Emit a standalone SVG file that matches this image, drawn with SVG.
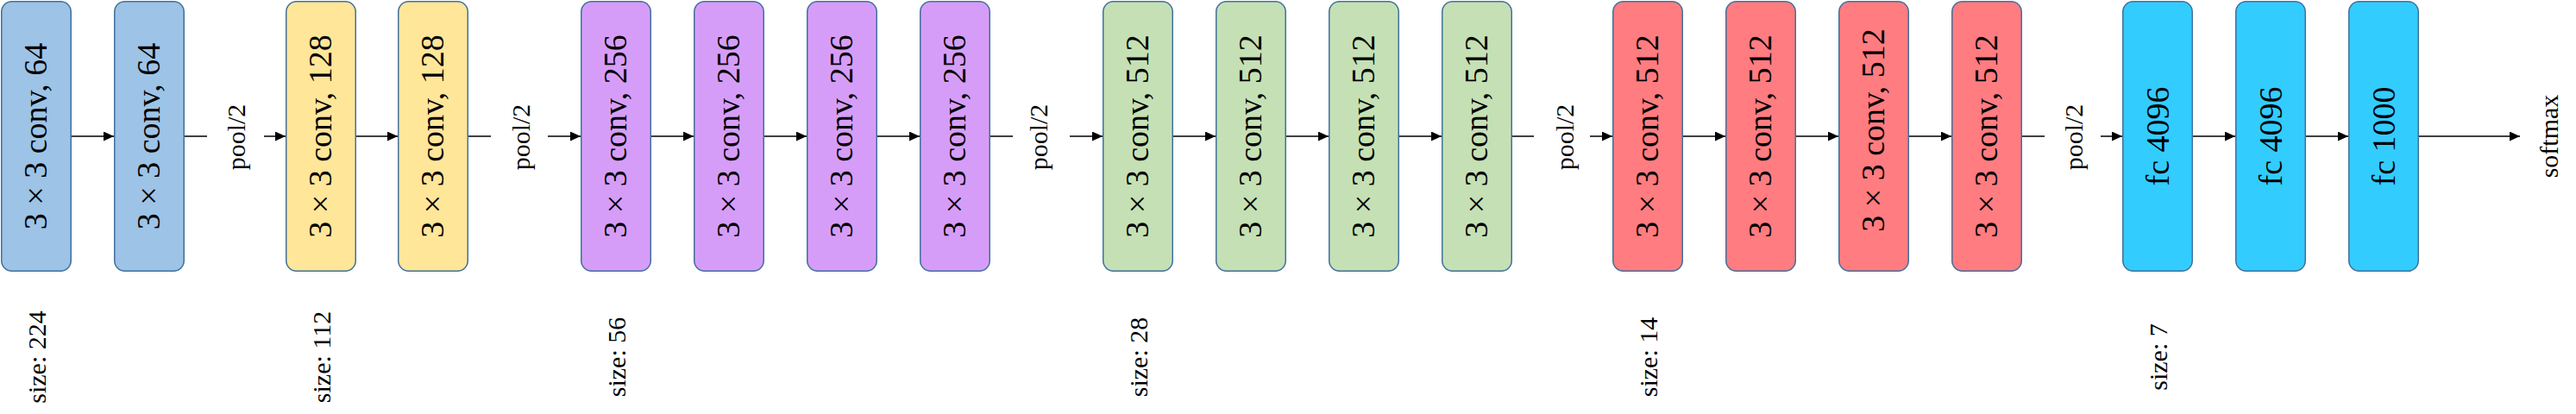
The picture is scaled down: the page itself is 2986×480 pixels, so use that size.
<svg xmlns="http://www.w3.org/2000/svg" width="2986" height="480" viewBox="0 0 2986 480">
<style>
.box{stroke:#41719C;stroke-width:1.5}
.b{fill:#9DC3E6}.y{fill:#FFE699}.p{fill:#D69DF8}.g{fill:#C5E0B4}.r{fill:#FF7C80}.c{fill:#33CCFF}
.t{font-family:"Liberation Serif","Times New Roman",serif;font-size:38px;fill:#000;text-anchor:middle}
.s{font-family:"Liberation Serif","Times New Roman",serif;font-size:30px;fill:#000;text-anchor:middle}
.ln{stroke:#000;stroke-width:1.5;fill:none}
</style>
<defs>
<marker id="ah" markerUnits="userSpaceOnUse" markerWidth="12" markerHeight="11" refX="12" refY="5.5" orient="auto">
<path d="M0,0 L12,5.5 L0,11 z" fill="#000"/>
</marker>
</defs>
<rect width="2986" height="480" fill="#fff"/>
<g id="connectors">
<line class="ln" x1="83" y1="158" x2="132" y2="158" marker-end="url(#ah)"/>
<line class="ln" x1="214" y1="158" x2="240" y2="158"/>
<line class="ln" x1="306" y1="158" x2="331" y2="158" marker-end="url(#ah)"/>
<line class="ln" x1="413" y1="158" x2="461" y2="158" marker-end="url(#ah)"/>
<line class="ln" x1="543" y1="158" x2="569" y2="158"/>
<line class="ln" x1="635" y1="158" x2="673" y2="158" marker-end="url(#ah)"/>
<line class="ln" x1="755" y1="158" x2="804" y2="158" marker-end="url(#ah)"/>
<line class="ln" x1="886" y1="158" x2="935" y2="158" marker-end="url(#ah)"/>
<line class="ln" x1="1017" y1="158" x2="1066" y2="158" marker-end="url(#ah)"/>
<line class="ln" x1="1148" y1="158" x2="1174" y2="158"/>
<line class="ln" x1="1240" y1="158" x2="1278" y2="158" marker-end="url(#ah)"/>
<line class="ln" x1="1360" y1="158" x2="1409" y2="158" marker-end="url(#ah)"/>
<line class="ln" x1="1491" y1="158" x2="1540" y2="158" marker-end="url(#ah)"/>
<line class="ln" x1="1622" y1="158" x2="1671" y2="158" marker-end="url(#ah)"/>
<line class="ln" x1="1753" y1="158" x2="1778" y2="158"/>
<line class="ln" x1="1843" y1="158" x2="1869" y2="158" marker-end="url(#ah)"/>
<line class="ln" x1="1951" y1="158" x2="2000" y2="158" marker-end="url(#ah)"/>
<line class="ln" x1="2082" y1="158" x2="2131" y2="158" marker-end="url(#ah)"/>
<line class="ln" x1="2213" y1="158" x2="2262" y2="158" marker-end="url(#ah)"/>
<line class="ln" x1="2344" y1="158" x2="2370" y2="158"/>
<line class="ln" x1="2435" y1="158" x2="2460" y2="158" marker-end="url(#ah)"/>
<line class="ln" x1="2542" y1="158" x2="2591" y2="158" marker-end="url(#ah)"/>
<line class="ln" x1="2673" y1="158" x2="2722" y2="158" marker-end="url(#ah)"/>
<line class="ln" x1="2804" y1="158" x2="2921" y2="158" marker-end="url(#ah)"/>
</g>
<g id="n1"><rect class="box b" x="1.75" y="1.75" width="80.5" height="312.5" rx="12"/><text class="t" x="54" y="158" transform="rotate(-90 54 158)">3 × 3 conv, 64</text></g>
<g id="n2"><rect class="box b" x="132.75" y="1.75" width="80.5" height="312.5" rx="12"/><text class="t" x="185" y="158" transform="rotate(-90 185 158)">3 × 3 conv, 64</text></g>
<g id="n3"><rect class="box y" x="331.75" y="1.75" width="80.5" height="312.5" rx="12"/><text class="t" x="384" y="158" transform="rotate(-90 384 158)">3 × 3 conv, 128</text></g>
<g id="n4"><rect class="box y" x="461.75" y="1.75" width="80.5" height="312.5" rx="12"/><text class="t" x="514" y="158" transform="rotate(-90 514 158)">3 × 3 conv, 128</text></g>
<g id="n5"><rect class="box p" x="673.75" y="1.75" width="80.5" height="312.5" rx="12"/><text class="t" x="726" y="158" transform="rotate(-90 726 158)">3 × 3 conv, 256</text></g>
<g id="n6"><rect class="box p" x="804.75" y="1.75" width="80.5" height="312.5" rx="12"/><text class="t" x="857" y="158" transform="rotate(-90 857 158)">3 × 3 conv, 256</text></g>
<g id="n7"><rect class="box p" x="935.75" y="1.75" width="80.5" height="312.5" rx="12"/><text class="t" x="988" y="158" transform="rotate(-90 988 158)">3 × 3 conv, 256</text></g>
<g id="n8"><rect class="box p" x="1066.75" y="1.75" width="80.5" height="312.5" rx="12"/><text class="t" x="1119" y="158" transform="rotate(-90 1119 158)">3 × 3 conv, 256</text></g>
<g id="n9"><rect class="box g" x="1278.75" y="1.75" width="80.5" height="312.5" rx="12"/><text class="t" x="1331" y="158" transform="rotate(-90 1331 158)">3 × 3 conv, 512</text></g>
<g id="n10"><rect class="box g" x="1409.75" y="1.75" width="80.5" height="312.5" rx="12"/><text class="t" x="1462" y="158" transform="rotate(-90 1462 158)">3 × 3 conv, 512</text></g>
<g id="n11"><rect class="box g" x="1540.75" y="1.75" width="80.5" height="312.5" rx="12"/><text class="t" x="1593" y="158" transform="rotate(-90 1593 158)">3 × 3 conv, 512</text></g>
<g id="n12"><rect class="box g" x="1671.75" y="1.75" width="80.5" height="312.5" rx="12"/><text class="t" x="1724" y="158" transform="rotate(-90 1724 158)">3 × 3 conv, 512</text></g>
<g id="n13"><rect class="box r" x="1869.75" y="1.75" width="80.5" height="312.5" rx="12"/><text class="t" x="1922" y="158" transform="rotate(-90 1922 158)">3 × 3 conv, 512</text></g>
<g id="n14"><rect class="box r" x="2000.75" y="1.75" width="80.5" height="312.5" rx="12"/><text class="t" x="2053" y="158" transform="rotate(-90 2053 158)">3 × 3 conv, 512</text></g>
<g id="n15"><rect class="box r" x="2131.75" y="1.75" width="80.5" height="312.5" rx="12"/><text class="t" x="2184" y="151" transform="rotate(-90 2184 151)">3 × 3 conv, 512</text></g>
<g id="n16"><rect class="box r" x="2262.75" y="1.75" width="80.5" height="312.5" rx="12"/><text class="t" x="2315" y="158" transform="rotate(-90 2315 158)">3 × 3 conv, 512</text></g>
<g id="n17"><rect class="box c" x="2460.75" y="1.75" width="80.5" height="312.5" rx="12"/><text class="t" x="2514" y="158" transform="rotate(-90 2514 158)">fc 4096</text></g>
<g id="n18"><rect class="box c" x="2591.75" y="1.75" width="80.5" height="312.5" rx="12"/><text class="t" x="2645" y="158" transform="rotate(-90 2645 158)">fc 4096</text></g>
<g id="n19"><rect class="box c" x="2722.75" y="1.75" width="80.5" height="312.5" rx="12"/><text class="t" x="2776" y="158" transform="rotate(-90 2776 158)">fc 1000</text></g>
<g id="labels">
<text class="s" x="284" y="159" transform="rotate(-90 284 159)">pool/2</text>
<text class="s" x="614" y="159" transform="rotate(-90 614 159)">pool/2</text>
<text class="s" x="1214" y="159" transform="rotate(-90 1214 159)">pool/2</text>
<text class="s" x="1824" y="159" transform="rotate(-90 1824 159)">pool/2</text>
<text class="s" x="2414" y="159" transform="rotate(-90 2414 159)">pool/2</text>
<text class="s" x="2965" y="158" transform="rotate(-90 2965 158)">softmax</text>
<text class="s" x="53" y="414" transform="rotate(-90 53 414)">size: 224</text>
<text class="s" x="383" y="414" transform="rotate(-90 383 414)">size: 112</text>
<text class="s" x="725" y="414" transform="rotate(-90 725 414)">size: 56</text>
<text class="s" x="1330" y="414" transform="rotate(-90 1330 414)">size: 28</text>
<text class="s" x="1921" y="414" transform="rotate(-90 1921 414)">size: 14</text>
<text class="s" x="2512" y="414" transform="rotate(-90 2512 414)">size: 7</text>
</g>
</svg>
